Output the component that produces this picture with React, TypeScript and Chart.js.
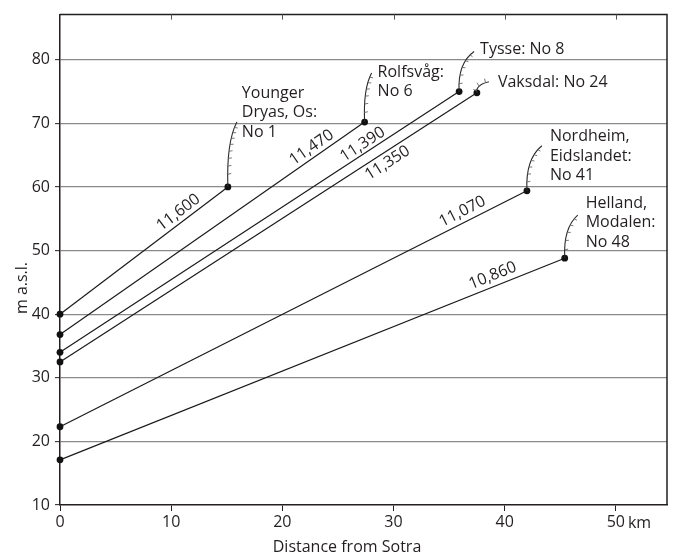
import React, { useEffect, useRef } from "react";
import { Chart, registerables } from "chart.js";

Chart.register(...registerables);

// ---------- data ----------
const siteLabels: string[][] = [
  ["Younger", "Dryas, Os:", "No 1"],
  ["Rolfsvåg:", "No 6"],
  ["Tysse: No 8"],
  ["Vaksdal: No 24"],
  ["Nordheim,", "Eidslandet:", "No 41"],
  ["Helland,", "Modalen:", "No 48"],
];
const ageLabels = ["11,600", "11,470", "11,390", "11,350", "11,070", "10,860"];
const startDistances = [0, 0, 0, 0, 0, 0];
const startHeights = [40, 36.8, 34.0, 32.5, 22.3, 17.1];
const endDistances = [15.1, 27.4, 35.9, 37.5, 42.0, 45.4];
const endHeights = [60.0, 70.2, 75.0, 74.8, 59.4, 48.8];
const xTickValues = [0, 10, 20, 30, 40, 50];
const yTickValues = [10, 20, 30, 40, 50, 60, 70, 80];
const xUnit = "km";
const xTitle = "Distance from Sotra";
const yTitle = "m a.s.l.";
const xMin = 0;
const xMax = 54.6;
const yMin = 10;
const yMax = 87.1;

// ---------- layout / style (pixels) ----------
const INK = "#231f20";
const GRID = "#8a8a8a";
const FONT = "'Open Sans', sans-serif";
const FONT_SIZE = 16;
const LINE_GAP = 19.5;

const labelLayout = [
  { dx: 14, dy: -94 },
  { dx: 13, dy: -50 },
  { dx: 21, dy: -42 },
  { dx: 21, dy: -10 },
  { dx: 23, dy: -54 },
  { dx: 21, dy: -55 },
];
const leaderLayout = [
  { dx: 9, dy: -65, side: 1 },
  { dx: 7, dy: -49, side: 1 },
  { dx: 15, dy: -40, side: 1 },
  { dx: 12, dy: -11, side: -1 },
  { dx: 15, dy: -45, side: 1 },
  { dx: 13, dy: -43, side: 1 },
];
const ageLayout = [
  { t: 0.74, off: 9.5 },
  { t: 0.844, off: 9.5 },
  { t: 0.77, off: 8.5 },
  { t: 0.772, off: -10.5 },
  { t: 0.872, off: 10.5 },
  { t: 0.865, off: 10.5 },
];

function cubic(p0: number, p1: number, p2: number, p3: number, t: number) {
  const u = 1 - t;
  return u * u * u * p0 + 3 * u * u * t * p1 + 3 * u * t * t * p2 + t * t * t * p3;
}
function cubicD(p0: number, p1: number, p2: number, p3: number, t: number) {
  const u = 1 - t;
  return 3 * u * u * (p1 - p0) + 6 * u * t * (p2 - p1) + 3 * t * t * (p3 - p2);
}

const annotationPlugin = {
  id: "annotations",
  afterDatasetsDraw(chart: any) {
    const { ctx, chartArea, scales } = chart;
    const xs = scales.x;
    const ys = scales.y;
    ctx.save();

    // frame top/right
    ctx.strokeStyle = INK;
    ctx.lineWidth = 1.5;
    ctx.beginPath();
    ctx.moveTo(chartArea.left, chartArea.top);
    ctx.lineTo(chartArea.right, chartArea.top);
    ctx.lineTo(chartArea.right, chartArea.bottom);
    ctx.stroke();

    // inward ticks on top
    ctx.lineWidth = 1;
    ctx.strokeStyle = "#555";
    xTickValues.forEach((v) => {
      if (v === xMin) return;
      const px = Math.round(xs.getPixelForValue(v)) + 0.5;
      ctx.beginPath();
      ctx.moveTo(px, chartArea.top);
      ctx.lineTo(px, chartArea.top + 5);
      ctx.stroke();
    });

    // leaders with hatches
    for (let i = 0; i < endDistances.length; i++) {
      const ex = xs.getPixelForValue(endDistances[i]);
      const ey = ys.getPixelForValue(endHeights[i]);
      const L = leaderLayout[i];
      const P = [
        [ex, ey],
        [ex - 1, ey + L.dy * 0.45],
        [ex + L.dx * 0.25, ey + L.dy * 0.8],
        [ex + L.dx, ey + L.dy],
      ];
      ctx.strokeStyle = "#2a2a2a";
      ctx.lineWidth = 1.1;
      ctx.beginPath();
      ctx.moveTo(P[0][0], P[0][1]);
      ctx.bezierCurveTo(P[1][0], P[1][1], P[2][0], P[2][1], P[3][0], P[3][1]);
      ctx.stroke();
      const len = Math.hypot(L.dx, L.dy);
      const n = Math.max(3, Math.round(len / 8.5));
      ctx.strokeStyle = "#666";
      ctx.lineWidth = 0.9;
      for (let k = 0; k < n; k++) {
        const t = 0.15 + (0.72 * k) / (n - 1);
        const bx = cubic(P[0][0], P[1][0], P[2][0], P[3][0], t);
        const by = cubic(P[0][1], P[1][1], P[2][1], P[3][1], t);
        const tx = cubicD(P[0][0], P[1][0], P[2][0], P[3][0], t);
        const ty = cubicD(P[0][1], P[1][1], P[2][1], P[3][1], t);
        const tl = Math.hypot(tx, ty) || 1;
        const nx = (L.side * -ty) / tl;
        const ny = (L.side * tx) / tl;
        ctx.beginPath();
        ctx.moveTo(bx, by);
        ctx.lineTo(bx + nx * 3.5, by + ny * 3.5 - 0.8);
        ctx.stroke();
      }
    }

    ctx.fillStyle = INK;
    ctx.font = `${FONT_SIZE}px ${FONT}`;

    // site labels
    ctx.textAlign = "left";
    ctx.textBaseline = "middle";
    for (let i = 0; i < siteLabels.length; i++) {
      const ex = xs.getPixelForValue(endDistances[i]);
      const ey = ys.getPixelForValue(endHeights[i]);
      const L = labelLayout[i];
      siteLabels[i].forEach((line, j) => {
        ctx.fillText(line, ex + L.dx, ey + L.dy + j * LINE_GAP);
      });
    }

    // age labels along the lines
    ctx.textAlign = "center";
    for (let i = 0; i < ageLabels.length; i++) {
      const x0 = xs.getPixelForValue(startDistances[i]);
      const y0 = ys.getPixelForValue(startHeights[i]);
      const x1 = xs.getPixelForValue(endDistances[i]);
      const y1 = ys.getPixelForValue(endHeights[i]);
      const a = Math.atan2(y1 - y0, x1 - x0);
      const dx = Math.cos(a);
      const dy = Math.sin(a);
      const A = ageLayout[i];
      const cx = x0 + A.t * (x1 - x0) + A.off * dy;
      const cy = y0 + A.t * (y1 - y0) - A.off * dx;
      ctx.save();
      ctx.translate(cx, cy);
      ctx.rotate(a);
      ctx.fillText(ageLabels[i], 0, 0);
      ctx.restore();
    }

    // unit after last x tick
    const lastTick = xTickValues[xTickValues.length - 1];
    const lx = xs.getPixelForValue(lastTick);
    const w = ctx.measureText(String(lastTick)).width;
    const sp = ctx.measureText(" ").width;
    ctx.textAlign = "left";
    ctx.fillText(xUnit, lx + w / 2 + sp * 0.7, chartArea.bottom + 18.5);

    // axis titles
    ctx.textAlign = "center";
    ctx.fillText(xTitle, 347, 547);
    ctx.save();
    ctx.translate(22, 288);
    ctx.rotate(-Math.PI / 2);
    ctx.fillText(yTitle, 0, 0);
    ctx.restore();

    ctx.restore();
  },
};

export default function App() {
  const ref = useRef<HTMLCanvasElement | null>(null);

  useEffect(() => {
    if (!ref.current) return;
    Chart.defaults.font.family = FONT;
    Chart.defaults.font.size = FONT_SIZE;
    Chart.defaults.color = INK;

    const datasets = endDistances.map((ed, i) => ({
      label: siteLabels[i].join(" "),
      data: [
        { x: startDistances[i], y: startHeights[i] },
        { x: ed, y: endHeights[i] },
      ],
      showLine: true,
      borderColor: "#1a1a1a",
      borderWidth: 1.2,
      pointRadius: 3.4,
      pointHoverRadius: 3.4,
      pointBackgroundColor: "#111",
      pointBorderWidth: 0,
      clip: false as any,
    }));

    const chart = new Chart(ref.current, {
      type: "scatter",
      data: { datasets },
      options: {
        animation: false,
        responsive: false,
        events: [],
        layout: { padding: { top: 7, right: 8, left: 0, bottom: 0 } },
        plugins: {
          legend: { display: false },
          tooltip: { enabled: false },
          title: { display: false },
        },
        scales: {
          x: {
            type: "linear",
            min: xMin,
            max: xMax,
            afterBuildTicks: (s: any) => {
              s.ticks = xTickValues.map((v) => ({ value: v }));
            },
            afterFit: (s: any) => {
              s.height = 50;
            },
            ticks: {
              font: { size: FONT_SIZE, family: FONT },
              color: INK,
              padding: 2,
              maxRotation: 0,
              callback: (v: any) => String(v),
            },
            grid: {
              drawOnChartArea: false,
              drawTicks: true,
              tickLength: 6,
              tickColor: INK,
              tickWidth: 1,
            },
            border: { display: true, color: INK, width: 1.5 },
          },
          y: {
            type: "linear",
            min: yMin,
            max: yMax,
            afterBuildTicks: (s: any) => {
              s.ticks = yTickValues.map((v) => ({ value: v }));
            },
            afterFit: (s: any) => {
              s.width = 60;
            },
            ticks: {
              font: { size: FONT_SIZE, family: FONT },
              color: INK,
              padding: 5,
              callback: (v: any) => String(v),
            },
            grid: {
              color: (c: any) => (c.tick && c.tick.value === yMin ? "rgba(0,0,0,0)" : GRID),
              lineWidth: 1.3,
              drawTicks: true,
              tickLength: 5,
              tickColor: INK,
              tickWidth: 1,
            },
            border: { display: true, color: INK, width: 1.5 },
          },
        },
      },
      plugins: [annotationPlugin],
    } as any);

    return () => chart.destroy();
  }, []);

  return (
    <div style={{ position: "fixed", left: 0, top: 0, width: 675, height: 555, background: "#fff" }}>
      <canvas ref={ref} width={675} height={555} style={{ width: 675, height: 555, display: "block" }} />
    </div>
  );
}
